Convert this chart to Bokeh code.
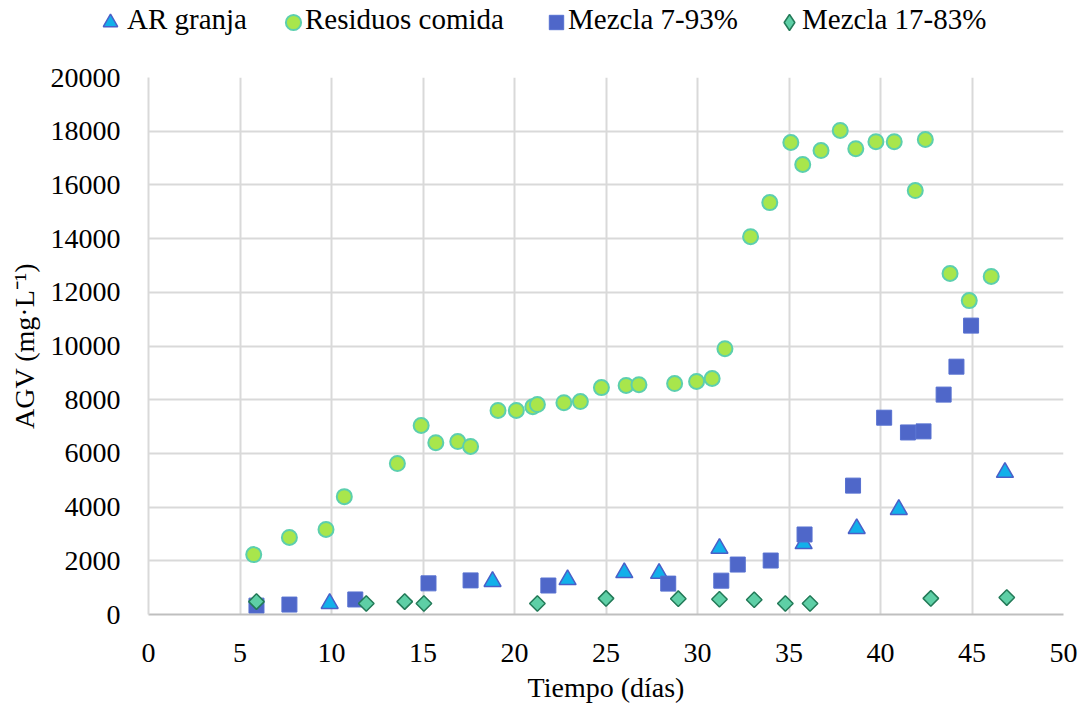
import math
from bokeh.plotting import figure
from bokeh.models import Legend, LegendItem, FixedTicker, Range1d
from bokeh.embed import file_html
from bokeh.resources import INLINE

# AR granja
ar_x = [9.9, 18.8, 22.9, 26.0, 27.9, 31.2, 35.8, 38.7, 41.0, 46.8]
ar_y = [410, 1230, 1300, 1560, 1530, 2460, 2640, 3200, 3910, 5290]

# Residuos comida
rc_x = [5.75, 7.7, 9.7, 10.7, 13.6, 14.9, 15.7, 16.9, 17.6, 19.1, 20.1, 21.0, 21.25,
        22.7, 23.6, 24.75, 26.1, 26.8, 28.75, 29.95, 30.8, 31.5, 32.9, 33.95, 35.1,
        35.75, 36.75, 37.8, 38.65, 39.75, 40.75, 41.9, 42.45, 43.8, 44.85, 46.05]
rc_y = [2230, 2870, 3170, 4390, 5620, 7040, 6400, 6440, 6260, 7600, 7600, 7740, 7820,
        7890, 7930, 8450, 8530, 8560, 8600, 8680, 8790, 9900, 14070, 15340, 17580,
        16760, 17280, 18030, 17350, 17610, 17610, 15790, 17690, 12700, 11690, 12590]

# Mezcla 7-93%
m7_x = [5.9, 7.7, 11.3, 15.3, 17.6, 21.85, 28.4, 31.3, 32.2, 34.0, 35.85, 38.5,
        40.2, 41.5, 42.35, 43.45, 44.15, 44.95]
m7_y = [330, 370, 560, 1160, 1270, 1080, 1150, 1260, 1860, 2010, 2980, 4800,
        7330, 6780, 6820, 8190, 9230, 10760]

# Mezcla 17-83%
m17_x = [5.9, 11.9, 14.0, 15.05, 21.25, 25.0, 28.95, 31.2, 33.1, 34.8, 36.15, 42.75, 46.9]
m17_y = [480, 410, 480, 410, 410, 600, 590, 570, 550, 410, 410, 600, 630]

series_names = ["AR granja", "Residuos comida", "Mezcla 7-93%", "Mezcla 17-83%"]
x_ticks = list(range(0, 51, 5))
y_ticks = list(range(0, 20001, 2000))

FONT = "Liberation Serif"

styles = [
    dict(marker="triangle", size=17, fill_color="#12b0ea", line_color="#4a5fc8", line_width=1.5),
    dict(marker="circle", size=15, fill_color="#a8e64c", line_color="#5ccfae", line_width=2),
    dict(marker="square", size=15, fill_color="#4f67c9", line_color="#5670d0", line_width=1),
    dict(marker="square", size=11, angle=math.pi / 4, fill_color="#5ecfa6",
         line_color="#237a58", line_width=1.5),
]
legend_markers = ["triangle", "circle", "square", "diamond"]
data = [(ar_x, ar_y), (rc_x, rc_y), (m7_x, m7_y), (m17_x, m17_y)]

# legend layout: (glyph centre x on page, label start x on page, glyph box size)
legend_layout = [(110, 127, 36), (293, 305, 38), (556, 568, 36), (789, 802, 40)]
LEG_CY = 35  # legend row centre, measured from the bottom of the legend strip

# ---- legend strip (top) ----
LEG_H = 57
leg = figure(width=1086, height=LEG_H, output_backend="svg", toolbar_location=None,
             x_range=Range1d(-3, -2), y_range=Range1d(-3, -2),
             x_axis_location=None, y_axis_location=None,
             min_border=0, min_border_left=0, min_border_right=0,
             min_border_top=0, min_border_bottom=0)
leg.outline_line_color = None
leg.xgrid.visible = False
leg.ygrid.visible = False


def style_legend(lg):
    lg.label_text_font = FONT
    lg.label_text_font_size = "29px"
    lg.label_text_color = "black"
    lg.border_line_color = None
    lg.background_fill_alpha = 0
    lg.padding = 0
    lg.margin = 0
    lg.label_height = 28


for name, st, mk, (xs, ys), (cx, lx, box) in zip(series_names, styles, legend_markers,
                                                 data, legend_layout):
    st_leg = {k: v for k, v in st.items() if k not in ("marker", "angle", "size")}
    # symbol
    r = leg.scatter(xs, ys, marker=mk, **st_leg)
    lg = Legend(items=[LegendItem(label=" ", renderers=[r])],
                location=(cx - box / 2, LEG_CY - box / 2))
    style_legend(lg)
    lg.glyph_width = box
    lg.glyph_height = box
    lg.label_standoff = 0
    leg.add_layout(lg, "center")
    # label
    r_txt = leg.scatter(xs, ys, marker="circle", fill_alpha=0, line_alpha=0)
    lt = Legend(items=[LegendItem(label=name, renderers=[r_txt])],
                location=(lx, LEG_CY - 14))
    style_legend(lt)
    lt.glyph_width = 0
    lt.glyph_height = 28
    lt.label_standoff = 0
    leg.add_layout(lt, "center")

# ---- main plot ----
p = figure(width=1086, height=706 - LEG_H, output_backend="svg", toolbar_location=None,
           x_range=Range1d(0, 50), y_range=Range1d(0, 20000),
           min_border_left=148, min_border_right=23, min_border_top=20,
           min_border_bottom=92)
p.outline_line_color = None
p.background_fill_color = "white"
p.border_fill_color = "white"

for ax in (p.xaxis[0], p.yaxis[0]):
    ax.major_tick_line_color = None
    ax.minor_tick_line_color = None
    ax.major_label_text_font = FONT
    ax.major_label_text_font_size = "28px"
    ax.major_label_text_color = "black"
    ax.axis_label_text_font = FONT
    ax.axis_label_text_font_size = "28px"
    ax.axis_label_text_font_style = "normal"
    ax.axis_label_text_color = "black"

p.xaxis.ticker = FixedTicker(ticks=x_ticks)
p.yaxis.ticker = FixedTicker(ticks=y_ticks)
p.xaxis.axis_label = "Tiempo (días)"
p.yaxis.axis_label = "AGV (mg·L⁻¹)"
p.xaxis.axis_line_color = "#bfbfbf"
p.xaxis.axis_line_width = 2
p.yaxis.axis_line_color = "#d9d9d9"
p.yaxis.axis_line_width = 2
p.xaxis.major_label_standoff = 23
p.yaxis.major_label_standoff = 22
p.xaxis.axis_label_standoff = 7
p.yaxis.axis_label_standoff = 8

p.xgrid.grid_line_color = "#d9d9d9"
p.ygrid.grid_line_color = "#d9d9d9"
p.xgrid.grid_line_width = 2
p.ygrid.grid_line_width = 2

for (xs, ys), st in zip(data, styles):
    p.scatter(xs, ys, **st)

open("out.html", "w").write(file_html([leg, p], INLINE))
